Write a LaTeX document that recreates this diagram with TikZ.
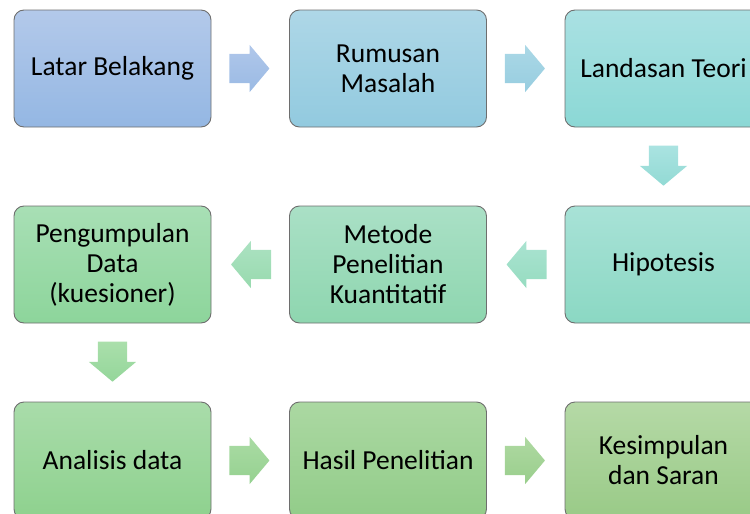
\documentclass[tikz,border=0pt]{standalone}
\usepackage{fontspec}
\setmainfont{Carlito}
\usetikzlibrary{shapes.arrows,calc}
\definecolor{bordergray}{HTML}{6E6E6E}
\definecolor{t1}{HTML}{B3C9EA}\definecolor{b1}{HTML}{94B7E3}
\definecolor{t2}{HTML}{AED7E7}\definecolor{b2}{HTML}{92CADF}
\definecolor{t3}{HTML}{AAE1E3}\definecolor{b3}{HTML}{8BD8D5}
\definecolor{t4}{HTML}{A8E2D7}\definecolor{b4}{HTML}{8BD8C3}
\definecolor{t5}{HTML}{AAE0C6}\definecolor{b5}{HTML}{8ED6AF}
\definecolor{t6}{HTML}{A8DFB5}\definecolor{b6}{HTML}{8DD59B}
\definecolor{t7}{HTML}{A9DCAA}\definecolor{b7}{HTML}{8ED18E}
\definecolor{t8}{HTML}{ABD8A2}\definecolor{b8}{HTML}{92CC89}
\definecolor{t9}{HTML}{B5D9A6}\definecolor{b9}{HTML}{99CA87}
\definecolor{at1}{HTML}{B0C7EA}\definecolor{ab1}{HTML}{9ABAE4}
\definecolor{at2}{HTML}{ABD8E6}\definecolor{ab2}{HTML}{97CDE0}
\definecolor{at3}{HTML}{AAE3E1}\definecolor{ab3}{HTML}{92DAD4}
\definecolor{at4}{HTML}{AAE3D1}\definecolor{ab4}{HTML}{96DCC0}
\definecolor{at5}{HTML}{ACE2C2}\definecolor{ab5}{HTML}{98DAAE}
\definecolor{at6}{HTML}{AADFAB}\definecolor{ab6}{HTML}{94D69A}
\definecolor{at7}{HTML}{AADBA4}\definecolor{ab7}{HTML}{95D190}
\definecolor{at8}{HTML}{AFD9A2}\definecolor{ab8}{HTML}{99CE8C}
\tikzset{
  stepbox/.style={draw=bordergray, line width=0.9pt, rounded corners=10pt,
    minimum width=197pt, minimum height=117pt, inner sep=0pt, align=center,
    font=\fontsize{27.5}{30}\selectfont, text=black},
  blockarrow/.style={single arrow, draw=none, minimum height=40pt, anchor=tail,
    single arrow head extend=9pt, single arrow tip angle=100},
  harrow/.style={blockarrow, inner xsep=0pt, inner ysep=14.5pt},
  varrow/.style={blockarrow, shape border rotate=270, inner xsep=14.5pt, inner ysep=0pt},
  sh/.style 2 args={top color=#1, bottom color=#2}
}
\begin{document}
\begin{tikzpicture}[x=1pt,y=-1pt]
\useasboundingbox (0,0) rectangle (750,514);
% row 1
\node[stepbox, sh={t1}{b1}] (n1) at (112.5,68.5) {Latar Belakang};
\node[stepbox, sh={t2}{b2}] (n2) at (388,68.5) {Rumusan\\Masalah};
\node[stepbox, sh={t3}{b3}] (n3) at (663.5,68.5) {Landasan Teori};
% row 2
\node[stepbox, sh={t4}{b4}] (n4) at (663.5,264.5) {Hipotesis};
\node[stepbox, sh={t5}{b5}] (n5) at (388,264.5) {Metode\\Penelitian\\Kuantitatif};
\node[stepbox, sh={t6}{b6}] (n6) at (112.5,264.5) {Pengumpulan\\Data\\(kuesioner)};
% row 3
\node[stepbox, sh={t7}{b7}] (n7) at (112.5,460.5) {Analisis data};
\node[stepbox, sh={t8}{b8}] (n8) at (388,460.5) {Hasil Penelitian};
\node[stepbox, sh={t9}{b9}] (n9) at (663.5,460.5) {Kesimpulan\\dan Saran};
% arrows
\node[harrow, sh={at1}{ab1}] (a12) at ($(n1.east)!0.5!(n2.west)+(-21,0)$) {};
\node[harrow, sh={at2}{ab2}] (a23) at ($(n2.east)!0.5!(n3.west)+(-21,0)$) {};
\node[varrow, sh={at3}{ab3}] (a34) at ($(n3.south)!0.5!(n4.north)+(0,-21)$) {};
\node[harrow, shape border rotate=180, sh={at4}{ab4}] (a45) at ($(n4.west)!0.5!(n5.east)+(21,0)$) {};
\node[harrow, shape border rotate=180, sh={at5}{ab5}] (a56) at ($(n5.west)!0.5!(n6.east)+(21,0)$) {};
\node[varrow, sh={at6}{ab6}] (a67) at ($(n6.south)!0.5!(n7.north)+(0,-21)$) {};
\node[harrow, sh={at7}{ab7}] (a78) at ($(n7.east)!0.5!(n8.west)+(-21,0)$) {};
\node[harrow, sh={at8}{ab8}] (a89) at ($(n8.east)!0.5!(n9.west)+(-21,0)$) {};
\end{tikzpicture}
\end{document}
